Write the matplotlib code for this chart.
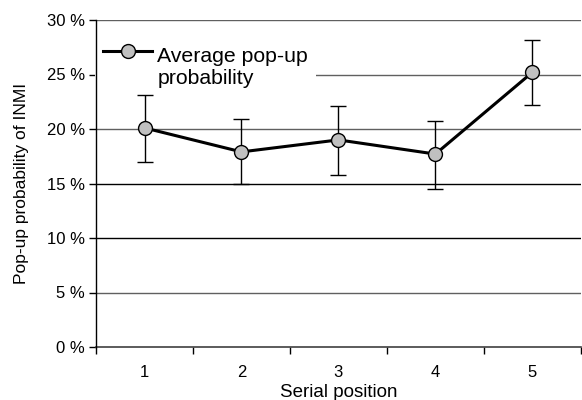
import numpy as np
import matplotlib
matplotlib.use("Agg")
import matplotlib.pyplot as plt
from matplotlib.ticker import FixedLocator, FuncFormatter

plt.rcParams['font.family'] = ['Liberation Sans', 'DejaVu Sans']

# data (percent)
positions = [1, 2, 3, 4, 5]
avg_prob = [20.1, 17.9, 19.0, 17.7, 25.2]
err_up = [3.0, 3.0, 3.1, 3.0, 3.0]
err_down = [3.1, 2.9, 3.2, 3.2, 3.0]
y_ticks = [0, 5, 10, 15, 20, 25, 30]

fig = plt.figure(figsize=(5.82, 4.0), dpi=100)
ax = fig.add_axes([0.165, 0.1325, 0.833, 0.8175])

for t in y_ticks[1:]:
    ax.axhline(t, color="#000000" if t in (10, 15) else "#606060", lw=1.0, zorder=1)

ax.errorbar(positions, avg_prob, yerr=[err_down, err_up], fmt="none",
            ecolor="black", elinewidth=1.0, capsize=6, capthick=1.0, zorder=2)
ax.plot(positions, avg_prob, color="black", lw=2.2, marker="o", ms=10,
        mfc="#c0c0c0", mec="black", mew=1.0, zorder=3,
        label="Average pop-up\nprobability")

ax.set_xlim(0.5, 5.5)
ax.set_ylim(0, 30)

ax.xaxis.set_major_locator(FixedLocator(np.arange(0.5, 6.0, 1.0)))
ax.xaxis.set_major_formatter(FuncFormatter(lambda v, p: ""))
ax.xaxis.set_minor_locator(FixedLocator(positions))
ax.xaxis.set_minor_formatter(FuncFormatter(lambda v, p: "%d" % v))
ax.tick_params(axis="x", which="major", length=5, direction="out", width=1)
ax.tick_params(axis="x", which="minor", length=0, pad=13, labelsize=12)

ax.set_yticks(y_ticks)
ax.set_yticklabels(["%d %%" % t for t in y_ticks])
ax.tick_params(axis="y", length=5, direction="out", width=1, labelsize=12, pad=3)

for s in ("top", "right"):
    ax.spines[s].set_visible(False)
ax.spines["left"].set_linewidth(1.0)
ax.spines["left"].set_zorder(6)
ax.spines["bottom"].set_linewidth(1.2)
ax.spines["bottom"].set_color("#404040")

ax.set_xlabel("Serial position", fontsize=13.5, labelpad=3)
ax.set_ylabel("Pop-up probability of INMI", fontsize=12.5, labelpad=13)

leg = ax.legend(loc="upper left", bbox_to_anchor=(-0.002, 0.994), frameon=True,
                fontsize=15.3, handlelength=2.3,
                borderaxespad=0.0, borderpad=0.38, handletextpad=0.25, labelspacing=0.1,
                fancybox=False, edgecolor="white", framealpha=1.0)
leg.get_frame().set_linewidth(0)
leg.set_zorder(5)
for t in leg.get_texts():
    t.set_va("center")

fig.savefig("out.png", dpi=100)
